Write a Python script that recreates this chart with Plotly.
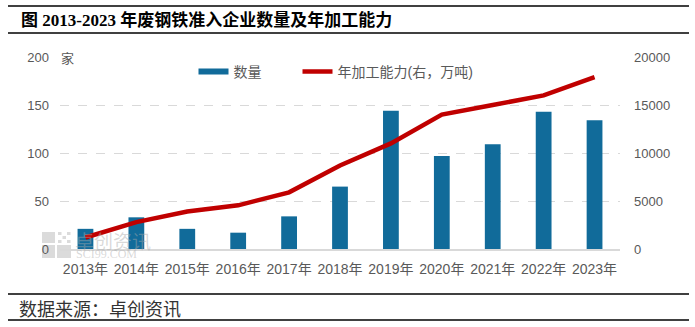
import plotly.graph_objects as go

# Data
years = ["2013年", "2014年", "2015年", "2016年", "2017年", "2018年",
         "2019年", "2020年", "2021年", "2022年", "2023年"]
enterprise_count = [21, 33, 21, 17, 34, 65, 144, 97, 109, 143, 134]
capacity_10kt = [1200, 2800, 3900, 4550, 5900, 8700, 11000, 14000, 15000, 16000, 17900]

left_ticks = [0, 50, 100, 150, 200]
right_ticks = [0, 5000, 10000, 15000, 20000]

BAR_COLOR = "#116B9A"
LINE_COLOR = "#C00000"
GRID_COLOR = "#D9D9D9"
TICK_COLOR = "#595959"
SANS = "Liberation Sans, Noto Sans CJK SC, sans-serif"

W, H = 695, 327
ML, MR, MT, MB = 60, 75, 57, 78
PW, PH = W - ML - MR, H - MT - MB


def px(x):
    return (x - ML) / PW


def py(y):
    return (H - MB - y) / PH


fig = go.Figure()

fig.add_trace(go.Bar(
    x=years, y=enterprise_count, name="数量",
    marker=dict(color=BAR_COLOR, line=dict(width=0)),
    width=0.31, showlegend=False, yaxis="y",
))
fig.add_trace(go.Scatter(
    x=years, y=capacity_10kt, name="年加工能力(右，万吨)",
    mode="lines", line=dict(color=LINE_COLOR, width=4.5),
    yaxis="y2", showlegend=False,
))
# legend entries drawn as flat swatches, each in its own legend box
fig.add_trace(go.Scatter(x=[None], y=[None], name="数量", mode="lines",
                         line=dict(color=BAR_COLOR, width=6), legend="legend"))
fig.add_trace(go.Scatter(x=[None], y=[None], name="年加工能力(右，万吨)", mode="lines",
                         line=dict(color=LINE_COLOR, width=4.5), legend="legend2"))

shapes = []
# rules above/below the title and around the source line
for yy in (6, 33, 294, 320):
    shapes.append(dict(type="line", xref="paper", yref="paper",
                       x0=px(8), x1=px(689), y0=py(yy), y1=py(yy),
                       line=dict(color="#000000", width=1.3)))
# faint logo blocks behind the bars
logo_fill = "rgba(190,190,190,0.55)"
for (x0, y0, x1, y1) in [(42, 232, 55, 243), (42, 245, 55, 258),
                         (57, 245, 71, 258)]:
    shapes.append(dict(type="rect", xref="paper", yref="paper", layer="below",
                       x0=px(x0), x1=px(x1), y0=py(y1), y1=py(y0),
                       fillcolor=logo_fill, line=dict(width=0)))
for i in range(3):
    for j in range(3):
        if (i + j) % 2 == 0:
            cx, cy = 58 + i * 4.5, 232 + j * 4
            shapes.append(dict(type="rect", xref="paper", yref="paper", layer="below",
                               x0=px(cx), x1=px(cx + 3.5), y0=py(cy + 3), y1=py(cy),
                               fillcolor=logo_fill, line=dict(width=0)))

WATERMARK = "rgba(170,170,170,0.45)"
annotations = [
    dict(text="<b>图 2013-2023 年废钢铁准入企业数量及年加工能力</b>",
         xref="paper", yref="paper", x=px(19), y=py(20.5), xanchor="left", yanchor="middle",
         showarrow=False, font=dict(family="Liberation Serif, Noto Sans CJK SC, serif",
                                    size=17, color="#000000")),
    dict(text="数据来源：卓创资讯", xref="paper", yref="paper", x=px(17), y=py(307.5),
         xanchor="left", yanchor="middle", showarrow=False,
         font=dict(family="Noto Sans CJK SC, sans-serif", size=18, color="#333333")),
    dict(text="家", xref="paper", yref="paper", x=px(59), y=py(58.5),
         xanchor="left", yanchor="middle", showarrow=False,
         font=dict(family=SANS, size=13, color=TICK_COLOR)),
    dict(text="卓创资讯", xref="paper", yref="paper", x=px(73), y=py(240.5),
         xanchor="left", yanchor="middle", showarrow=False,
         font=dict(family="Noto Sans CJK SC, sans-serif", size=19, color=WATERMARK)),
    dict(text="SCI99.COM", xref="paper", yref="paper", x=px(74), y=py(253.5),
         xanchor="left", yanchor="middle", showarrow=False,
         font=dict(family="Liberation Serif, serif", size=12, color=WATERMARK)),
]

legend_style = dict(orientation="h", xanchor="left", yanchor="middle",
                    font=dict(family=SANS, size=14, color=TICK_COLOR),
                    bgcolor="rgba(0,0,0,0)", itemwidth=30)

fig.update_layout(
    width=W, height=H,
    margin=dict(l=ML, r=MR, t=MT, b=MB, pad=0),
    paper_bgcolor="#FFFFFF", plot_bgcolor="#FFFFFF",
    font=dict(family=SANS, size=13, color=TICK_COLOR),
    shapes=shapes, annotations=annotations,
    legend=dict(x=px(193.5), y=py(72), **legend_style),
    legend2=dict(x=px(297.5), y=py(72), **legend_style),
    xaxis=dict(type="category", showgrid=False, showline=True, linecolor=GRID_COLOR,
               linewidth=1.5, ticks="", ticklabelstandoff=6,
               tickfont=dict(size=14, color=TICK_COLOR), fixedrange=True),
    yaxis=dict(range=[0, 200], tickvals=left_ticks, showgrid=True, gridcolor=GRID_COLOR,
               griddash="dash", gridwidth=1, zeroline=False, showline=False, ticks="",
               ticklabelstandoff=10, tickfont=dict(size=13, color=TICK_COLOR)),
    yaxis2=dict(range=[0, 20000], tickvals=right_ticks, tickformat="d",
                overlaying="y", side="right",
                showgrid=False, zeroline=False, showline=False, ticks="",
                ticklabelstandoff=13, tickfont=dict(size=13, color=TICK_COLOR)),
)

fig.write_html("out.html")
